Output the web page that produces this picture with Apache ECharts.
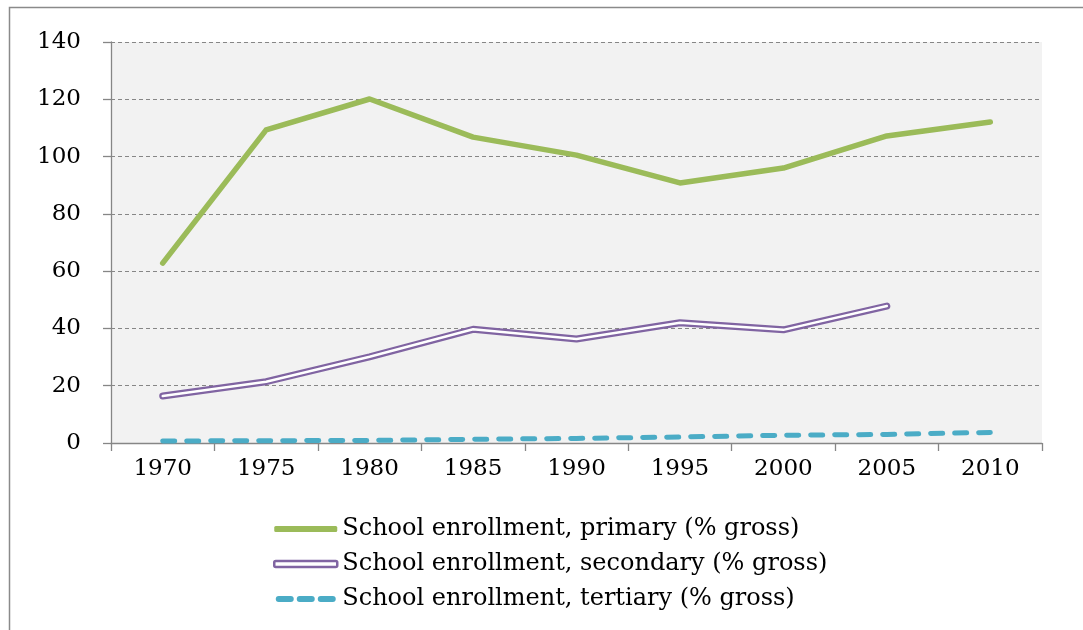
<!DOCTYPE html>
<html>
<head>
<meta charset="utf-8">
<script src="https://cdn.jsdelivr.net/npm/echarts@6/dist/echarts.min.js"></script>
<style>
  html, body { margin: 0; padding: 0; background: #fff; }
  #chart { width: 1083px; height: 630px; }
</style>
</head>
<body>
<div id="chart"></div>
<script>
// Gross school enrollment ratios, five-year steps
const years = ['1970', '1975', '1980', '1985', '1990', '1995', '2000', '2005', '2010'];
const primary = [62.8, 109.3, 120.1, 106.8, 100.5, 90.8, 96.0, 107.2, 112.1];
const secondary = [16.4, 21.4, 30.1, 39.7, 36.3, 42.0, 39.5, 47.8, null];
const tertiary = [0.7, 0.8, 0.9, 1.3, 1.6, 2.1, 2.7, 3.0, 3.7];

const names = {
  primary: 'School enrollment, primary (% gross)',
  secondary: 'School enrollment, secondary (% gross)',
  tertiary: 'School enrollment, tertiary (% gross)'
};

const FONT = 'DejaVu Serif';
const AXIS_GRAY = '#868686';
const GREEN = '#9bbb59';
const PURPLE = '#8064a2';
const TEAL = '#4bacc6';

const chart = echarts.init(document.getElementById('chart'), null, { renderer: 'canvas' });

chart.setOption({
  animation: false,
  backgroundColor: '#fff',
  textStyle: { fontFamily: FONT, color: '#000' },
  graphic: [{
    type: 'rect',
    shape: { x: 9.5, y: 7.5, width: 1090, height: 700 },
    style: { fill: null, stroke: '#8a8a8a', lineWidth: 1.5 },
    silent: true
  }],
  grid: {
    left: 111, top: 42, right: 41, bottom: 187,
    show: true, backgroundColor: '#f2f2f2', borderWidth: 0
  },
  legend: {
    orient: 'vertical',
    left: 268, top: 512,
    itemGap: 11,
    itemWidth: 63, itemHeight: 6,
    textStyle: { fontFamily: FONT, fontSize: 24, color: '#000' },
    data: [
      { name: names.primary, icon: 'roundRect',
        itemStyle: { color: GREEN, borderWidth: 0 } },
      { name: names.secondary, icon: 'roundRect',
        itemStyle: { color: '#ffffff', borderColor: PURPLE, borderWidth: 2.5 } },
      { name: names.tertiary,
        icon: 'path://M3,0 H15 A3,3 0 0 1 15,6 H3 A3,3 0 0 1 3,0 Z M24,0 H36 A3,3 0 0 1 36,6 H24 A3,3 0 0 1 24,0 Z M45,0 H57 A3,3 0 0 1 57,6 H45 A3,3 0 0 1 45,0 Z',
        itemStyle: { color: TEAL, borderWidth: 0 } }
    ]
  },
  xAxis: {
    type: 'category',
    data: years,
    boundaryGap: true,
    axisLine: { lineStyle: { color: AXIS_GRAY, width: 1.3 } },
    axisTick: { show: true, length: 8, lineStyle: { color: AXIS_GRAY, width: 1.3 } },
    axisLabel: { fontFamily: FONT, fontSize: 23, color: '#000', margin: 15 },
    splitLine: { show: false }
  },
  yAxis: {
    type: 'value',
    min: 0, max: 140, interval: 20,
    axisLine: { show: true, lineStyle: { color: AXIS_GRAY, width: 1.3 } },
    axisTick: { show: true, length: 8, lineStyle: { color: AXIS_GRAY, width: 1.3 } },
    axisLabel: { fontFamily: FONT, fontSize: 23, color: '#000', margin: 30 },
    splitLine: { show: true, lineStyle: { color: AXIS_GRAY, width: 1.2, type: [4, 3] } }
  },
  series: [
    {
      name: names.primary,
      type: 'line',
      data: primary,
      showSymbol: false,
      color: GREEN,
      lineStyle: { color: GREEN, width: 5.5, cap: 'round', join: 'round' },
      z: 3
    },
    {
      name: names.secondary,
      type: 'line',
      data: secondary,
      showSymbol: false,
      color: PURPLE,
      lineStyle: { color: PURPLE, width: 7, cap: 'round', join: 'round' },
      z: 2
    },
    {
      // inner white stroke of the double line
      name: 'secondary-inner',
      type: 'line',
      data: secondary,
      showSymbol: false,
      color: '#ffffff',
      lineStyle: { color: '#ffffff', width: 2.5, cap: 'round', join: 'round' },
      z: 2.5
    },
    {
      name: names.tertiary,
      type: 'line',
      data: tertiary,
      showSymbol: false,
      color: TEAL,
      lineStyle: { color: TEAL, width: 5, type: [12, 12], cap: 'round', join: 'round' },
      z: 3
    }
  ]
});
</script>
</body>
</html>
